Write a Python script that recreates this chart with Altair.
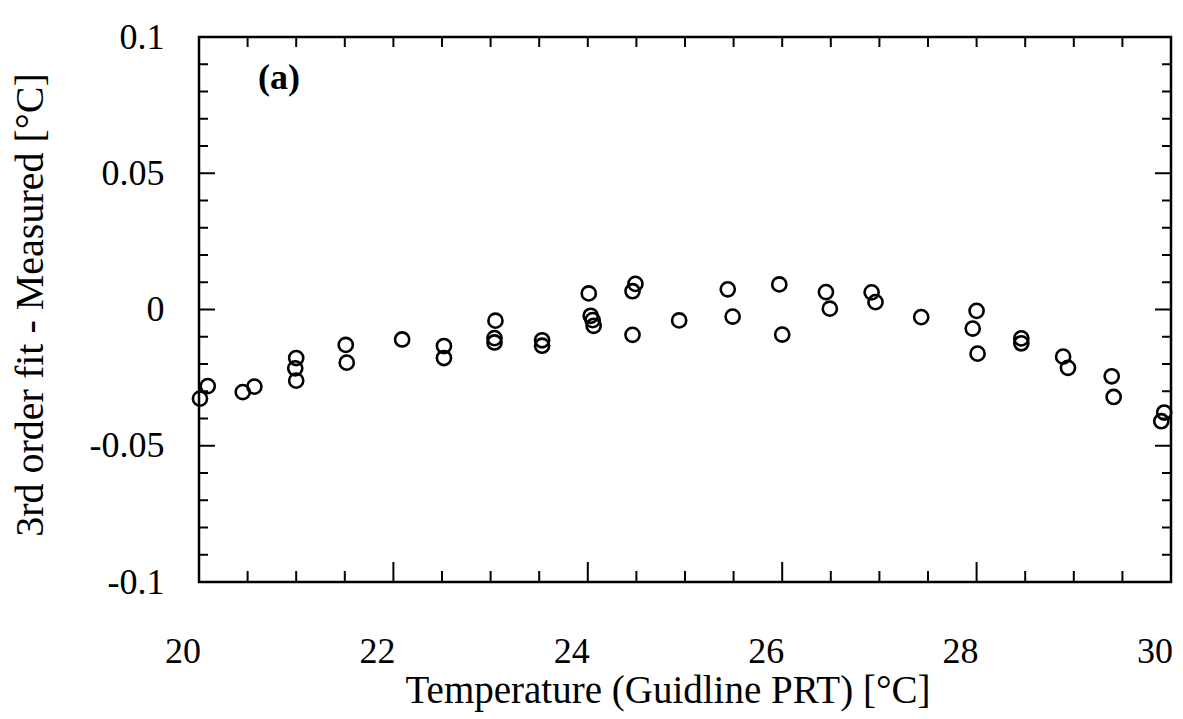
import altair as alt
import pandas as pd

# Data
temp = [20.01, 20.09, 20.45, 20.57, 21.00, 20.99, 21.00, 21.51, 21.52, 22.09,
        22.52, 22.52, 23.05, 23.04, 23.04, 23.53, 23.53, 24.01, 24.03, 24.05,
        24.06, 24.46, 24.49, 24.46, 24.94, 25.44, 25.49, 25.97, 26.00, 26.45,
        26.49, 26.92, 26.96, 27.43, 28.00, 27.96, 28.01, 28.46, 28.46, 28.89,
        28.94, 29.39, 29.41, 29.93, 29.90]
resid = [-0.0327, -0.0281, -0.0303, -0.0283, -0.0178, -0.0216, -0.0261, -0.0130, -0.0195, -0.0110,
         -0.0134, -0.0178, -0.0041, -0.0105, -0.0121, -0.0113, -0.0133, 0.0059, -0.0023, -0.0039,
         -0.0060, 0.0067, 0.0094, -0.0093, -0.0040, 0.0074, -0.0026, 0.0092, -0.0092, 0.0064,
         0.0003, 0.0063, 0.0027, -0.0028, -0.0005, -0.0070, -0.0162, -0.0106, -0.0124, -0.0173,
         -0.0214, -0.0245, -0.0321, -0.0378, -0.0410]

x_major = [20, 22, 24, 26, 28, 30]
x_major_labels = ["20", "22", "24", "26", "28", "30"]
x_minor = [20.5, 21, 21.5, 22.5, 23, 23.5, 24.5, 25, 25.5, 26.5, 27, 27.5, 28.5, 29, 29.5]
y_major = [-0.1, -0.05, 0, 0.05, 0.1]
y_major_labels = ["-0.1", "-0.05", "0", "0.05", "0.1"]
y_minor = [-0.09, -0.08, -0.07, -0.06, -0.04, -0.03, -0.02, -0.01,
           0.01, 0.02, 0.03, 0.04, 0.06, 0.07, 0.08, 0.09]

x_title = "Temperature (Guidline PRT) [°C]"
y_title = "3rd order fit - Measured [°C]"
panel_label = "(a)"

W, H = 972, 545
FONT = "Liberation Serif"

xs = alt.Scale(domain=[20, 30], nice=False, zero=False)
ys = alt.Scale(domain=[-0.1, 0.1], nice=False, zero=False)

label_expr = " : ".join(
    f"abs(datum.value - ({v})) < 1e-9 ? '{l}'" for v, l in zip(y_major, y_major_labels)
) + " : ''"

y_axis = alt.Axis(
    values=y_major, ticks=False, domain=False, grid=False, labelExpr=label_expr,
    labelFont=FONT, labelFontSize=36, labelColor="black", labelPadding=35,
    title=y_title, titleFont=FONT, titleFontSize=40,
    titleFontWeight="normal", titleColor="black", titleX=-169, titleY=H / 2 - 5,
    titleBaseline="middle", titleAngle=-90, titleAlign="center")

x_axis_hidden = alt.Axis(labels=False, ticks=False, domain=False, grid=False, title="")

df = pd.DataFrame({"t": temp, "r": resid})

points = alt.Chart(df).mark_point(
    shape="circle", filled=False, stroke="black", strokeWidth=2.6, size=200, opacity=1
).encode(
    x=alt.X("t:Q", scale=xs, axis=x_axis_hidden),
    y=alt.Y("r:Q", scale=ys, axis=y_axis),
)

def xticks(vals, y0, y1):
    return alt.Chart(pd.DataFrame({"t": vals})).mark_rule(color="black", strokeWidth=2).encode(
        x=alt.X("t:Q", scale=xs, axis=None), y=alt.value(y0), y2=alt.value(y1))

def yticks(vals, x0, x1):
    return alt.Chart(pd.DataFrame({"r": vals})).mark_rule(color="black", strokeWidth=2).encode(
        y=alt.Y("r:Q", scale=ys, axis=y_axis), x=alt.value(x0), x2=alt.value(x1))

xlabels = alt.Chart(pd.DataFrame({"t": x_major, "lab": x_major_labels})).mark_text(
    font=FONT, fontSize=36, color="black", align="center", baseline="middle", dx=-16
).encode(x=alt.X("t:Q", scale=xs, axis=None), y=alt.value(H + 70), text="lab:N")

xtitle = alt.Chart(pd.DataFrame({"lab": [x_title]})).mark_text(
    font=FONT, fontSize=39, color="black", align="center", baseline="middle"
).encode(text="lab:N", x=alt.value(W / 2 - 17), y=alt.value(H + 109))

label_a = alt.Chart(pd.DataFrame({"lab": [panel_label]})).mark_text(
    font=FONT, fontSize=36, fontWeight="bold", color="black", align="center", baseline="middle"
).encode(text="lab:N", x=alt.value(80), y=alt.value(41))

chart = alt.layer(
    points,
    xticks(x_major, H, H - 20), xticks(x_minor, H, H - 11),
    xticks(x_major, 0, 10), xticks(x_minor, 0, 10),
    yticks(y_major, 0, 16), yticks(y_minor, 0, 9),
    yticks(y_major, W, W - 16), yticks(y_minor, W, W - 9),
    xlabels, xtitle, label_a,
).properties(
    width=W, height=H,
    autosize=alt.AutoSizeParams(type="none"),
    padding={"left": 191, "top": 29, "right": 4, "bottom": 135},
).configure(background="white").configure_view(stroke="black", strokeWidth=2.5)

chart.save("out.html", embed_options={"renderer": "svg", "actions": False})
